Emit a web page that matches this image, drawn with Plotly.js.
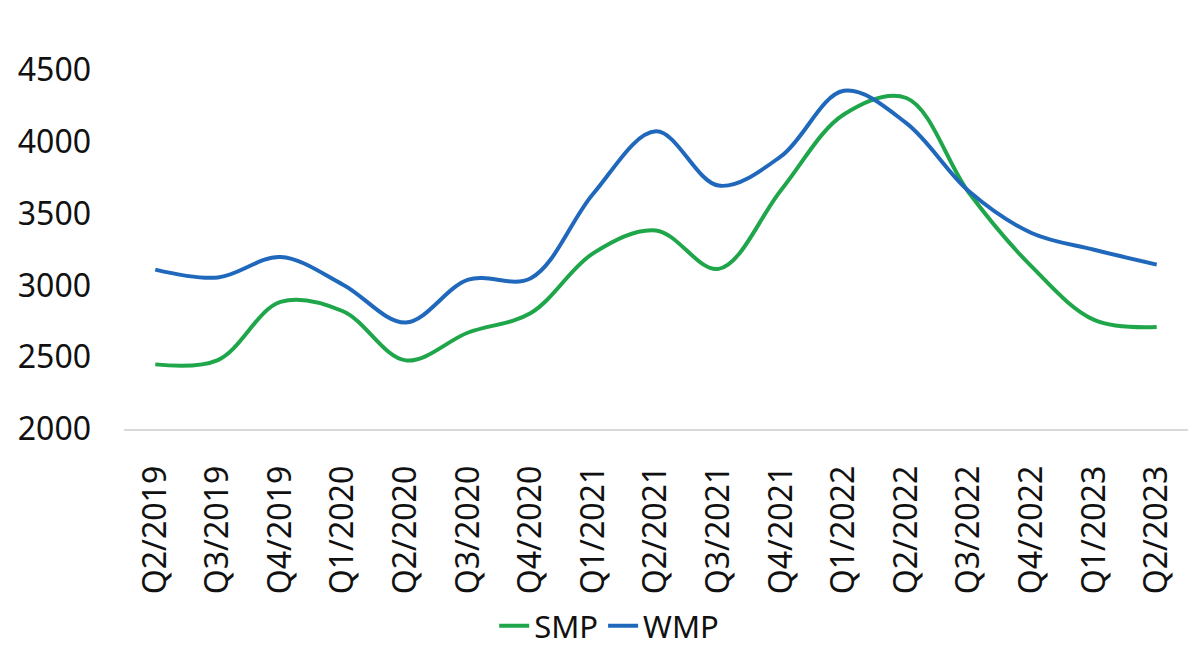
<!DOCTYPE html>
<html>
<head>
<meta charset="utf-8">
<script src="https://cdn.plot.ly/plotly-3.0.1.min.js"></script>
<style>html,body{margin:0;padding:0;background:#fff;}#chart{width:1200px;height:653px;}</style>
</head>
<body>
<div id="chart"></div>
<script>
const categories = ["Q2/2019","Q3/2019","Q4/2019","Q1/2020","Q2/2020","Q3/2020","Q4/2020","Q1/2021","Q2/2021","Q3/2021","Q4/2021","Q1/2022","Q2/2022","Q3/2022","Q4/2022","Q1/2023","Q2/2023"];
const smp = [2450,2480,2885,2820,2478,2672,2808,3225,3383,3115,3665,4190,4305,3645,3132,2760,2710];
const wmp = [3110,3055,3197,3005,2742,3040,3050,3640,4073,3695,3900,4355,4130,3655,3365,3248,3145];
const yTicks = [2000,2500,3000,3500,4000,4500];

const font = "'Noto Sans', 'Open Sans', sans-serif";
const traces = [
  {x: categories, y: smp, name: "SMP", type: "scatter", mode: "lines",
   line: {color: "#1fa64a", width: 4, shape: "spline", smoothing: 1}},
  {x: categories, y: wmp, name: "WMP", type: "scatter", mode: "lines",
   line: {color: "#1f68bb", width: 4, shape: "spline", smoothing: 1}}
];
const layout = {
  width: 1200, height: 653,
  margin: {l: 124, r: 12, t: 70, b: 224},
  paper_bgcolor: "#fff", plot_bgcolor: "#fff",
  font: {family: font, size: 32, color: "#111"},
  showlegend: true,
  legend: {orientation: "h", x: 0.456, xanchor: "center", yref: "container", y: -0.01, yanchor: "bottom",
           font: {family: font, size: 31, color: "#111"}, tracegroupgap: 0},
  xaxis: {type: "category", range: [-0.5, 16.5], tickangle: -90, showgrid: false, zeroline: false,
          showline: true, linecolor: "#d9d9d9", linewidth: 2, ticks: "", ticklabelstandoff: 22,
          tickfont: {family: font, size: 32, color: "#111"}, fixedrange: true},
  yaxis: {range: [2000, 4500], tickvals: yTicks, showgrid: false, zeroline: false,
          showline: false, ticks: "", ticklabelstandoff: 32,
          tickfont: {family: font, size: 32, color: "#111"}}
};
Plotly.newPlot("chart", traces, layout, {displayModeBar: false, staticPlot: true});
</script>
</body>
</html>
